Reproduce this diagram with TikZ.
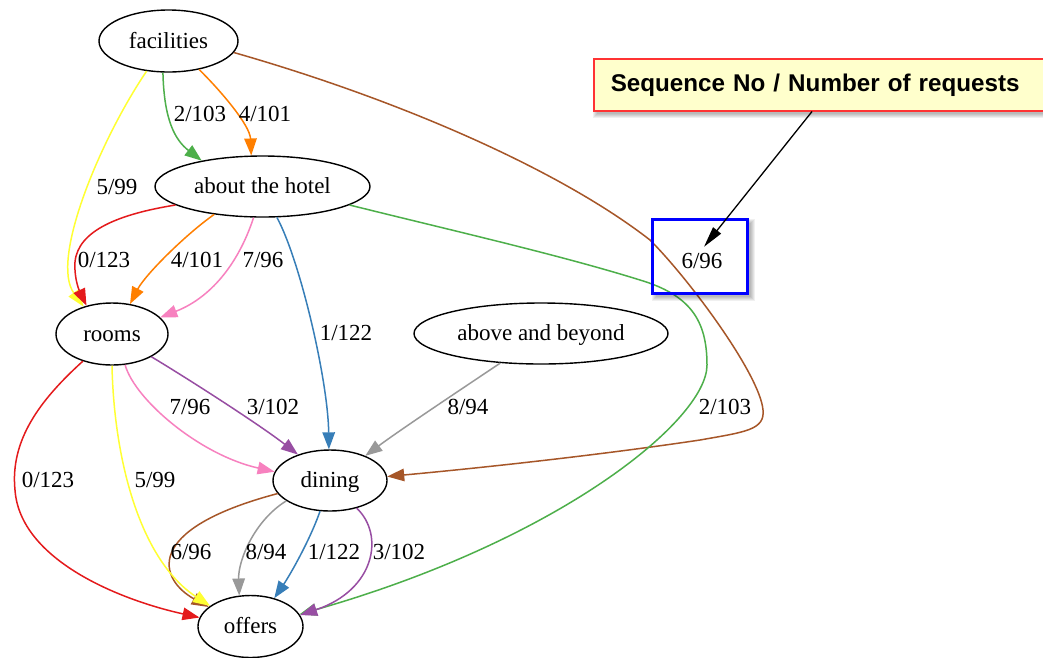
\documentclass[tikz,border=0pt]{standalone}
\usepackage{fontspec}
\setmainfont{Liberation Serif}
\newfontfamily\calloutfont{Liberation Sans}
\usetikzlibrary{shapes.geometric,arrows.meta,calc}

% ColorBrewer Set1 palette used for the edges
\definecolor{cred}{HTML}{E41A1C}
\definecolor{cblue}{HTML}{377EB8}
\definecolor{cgreen}{HTML}{4DAF4A}
\definecolor{cpurple}{HTML}{984EA3}
\definecolor{corange}{HTML}{FF7F00}
\definecolor{cyellow}{HTML}{FFFF33}
\definecolor{cbrown}{HTML}{A65628}
\definecolor{cpink}{HTML}{F781BF}
\definecolor{cgray}{HTML}{999999}
\definecolor{notefill}{HTML}{FFFFCC}
\definecolor{noteline}{HTML}{FF3333}

\newcommand{\gvfont}{\fontsize{23}{27}\selectfont}

\begin{document}
\begin{tikzpicture}[x=1pt,y=-1pt,
  state/.style={ellipse,draw=black,line width=1.4pt,inner sep=0pt,font=\gvfont,
                text height=14pt,text depth=0pt},
  elabel/.style={font=\gvfont,inner sep=0pt},
  flow/.style={line width=1.5pt,-{Triangle[length=17pt,width=12.5pt]}},
  pointer/.style={line width=1.3pt,black,-{Triangle[length=21pt,width=10pt]},shorten >=8pt},
  notebox/.style={draw=noteline,line width=1.5pt,fill=notefill,anchor=north west,
                  minimum height=52pt,text width=440pt,align=left,inner xsep=17pt,
                  font=\calloutfont\bfseries\fontsize{24.2}{28}\selectfont},
  hlbox/.style={draw=blue,line width=3pt,minimum width=95pt,minimum height=74pt,inner sep=0pt},
  ]
\useasboundingbox (0,0) rectangle (1043,657);
\fill[white] (0,0) rectangle (1043,657);

% states
\node[state,minimum width=139pt,minimum height=62pt] (fac)    at (168.5,41)   {facilities};
\node[state,minimum width=215pt,minimum height=61pt] (hotel)  at (262.5,186.5) {about the hotel};
\node[state,minimum width=112pt,minimum height=62pt] (rooms)  at (112,334)    {rooms};
\node[state,minimum width=254pt,minimum height=61pt] (beyond) at (541,333.5)  {above and beyond};
\node[state,minimum width=114pt,minimum height=61pt] (dining) at (330,480.5)  {dining};
\node[state,minimum width=105pt,minimum height=62pt] (offers) at (250.5,626.5) {offers};

% transitions
\draw[flow,cgreen]  (fac.260) .. controls (164,120) and (175,140) .. (hotel.157);
\draw[flow,corange] (fac.317) .. controls (220,90) and (250,125) .. (hotel.110);
\draw[flow,cyellow] (fac.234) .. controls (100,140) and (50,260) .. (rooms.136);
\draw[flow,cbrown]  (fac.350) .. controls (400,100) and (560,170) .. (650,240)
                    .. controls (690,280) and (760,375) .. (763,410)
                    .. controls (765,430) and (745,432) .. (700,440)
                    .. controls (600,455) and (480,468) .. (dining.4);
\draw[flow,cred]    (hotel.192) .. controls (120,214) and (78,230) .. (75,262)
                    .. controls (74,280) and (80,292) .. (rooms.132);
\draw[flow,corange] (hotel.210) .. controls (185,235) and (145,275) .. (rooms.59);
\draw[flow,cpink]   (hotel.254) .. controls (238,265) and (210,298) .. (rooms.19);
\draw[flow,cblue]   (hotel.295) .. controls (300,260) and (328,380) .. (dining.92);
\draw[flow,cgreen]  (hotel.348) .. controls (450,230) and (560,255) .. (640,280)
                    .. controls (690,295) and (707,320) .. (707,365)
                    .. controls (707,420) and (560,540) .. (offers.14);
\draw[flow,cgray]   (beyond.216) .. controls (460,390) and (400,430) .. (dining.35);
\draw[flow,cpurple] (rooms.330) .. controls (190,380) and (260,425) .. (dining.141);
\draw[flow,cpink]   (rooms.293) .. controls (135,400) and (200,455) .. (dining.171);
\draw[flow,cred]    (rooms.223) .. controls (40,400) and (10,440) .. (15,490)
                    .. controls (20,560) and (120,600) .. (offers.170);
\draw[flow,cbrown]  (dining.194) .. controls (140,530) and (160,580) .. (offers.155);
\draw[flow,cyellow] (rooms.270) .. controls (114,460) and (140,560) .. (offers.153);
\draw[flow,cgray]   (dining.205) .. controls (255,520) and (238,560) .. (offers.110);
\draw[flow,cblue]   (dining.252) .. controls (310,540) and (290,575) .. (offers.50);
\draw[flow,cpurple] (dining.314) .. controls (385,535) and (375,590) .. (offers.13);

% edge labels: sequence no / number of requests
\node[elabel] (l1)  at (200,114) {2/103};
\node[elabel] (l2)  at (265,114) {4/101};
\node[elabel] (l3)  at (117,187) {5/99};
\node[elabel] (l4)  at (104,260) {0/123};
\node[elabel] (l5)  at (197,260) {4/101};
\node[elabel] (l6)  at (263,260) {7/96};
\node[elabel] (l7)  at (346,333) {1/122};
\node[elabel] (l8)  at (190,407) {7/96};
\node[elabel] (l9)  at (273,407) {3/102};
\node[elabel] (l10) at (468,407) {8/94};
\node[elabel] (l11) at (725,407) {2/103};
\node[elabel] (l12) at (48,480)  {0/123};
\node[elabel] (l13) at (155,480) {5/99};
\node[elabel] (l14) at (191,552) {6/96};
\node[elabel] (l15) at (266,552) {8/94};
\node[elabel] (l16) at (334,552) {1/122};
\node[elabel] (l17) at (399,552) {3/102};
\node[elabel] (lbl6) at (702,261) {6/96};

% highlight frame with a soft shadow outside it
\begin{scope}[even odd rule]
  \clip (0,0) rectangle (1043,657) (652,219) rectangle (747,293);
  \foreach \k in {0,1,2,3,4}
    \fill[black,opacity=0.06] (656-\k,223-\k) rectangle (751+\k,297+\k);
\end{scope}
\node[hlbox] (hl) at (699.5,256) {};

% callout note with its shadow
\foreach \k in {0,1,2,3,4}
  \fill[black,opacity=0.06] (597-\k,62-\k) rectangle (1064+\k,114+\k);
\node[notebox] (note) at (593,58) {Sequence No / Number of requests};
\draw[pointer] ($(note.south west)+(219,0)$) -- ([xshift=-3pt]lbl6.north);
\end{tikzpicture}
\end{document}
